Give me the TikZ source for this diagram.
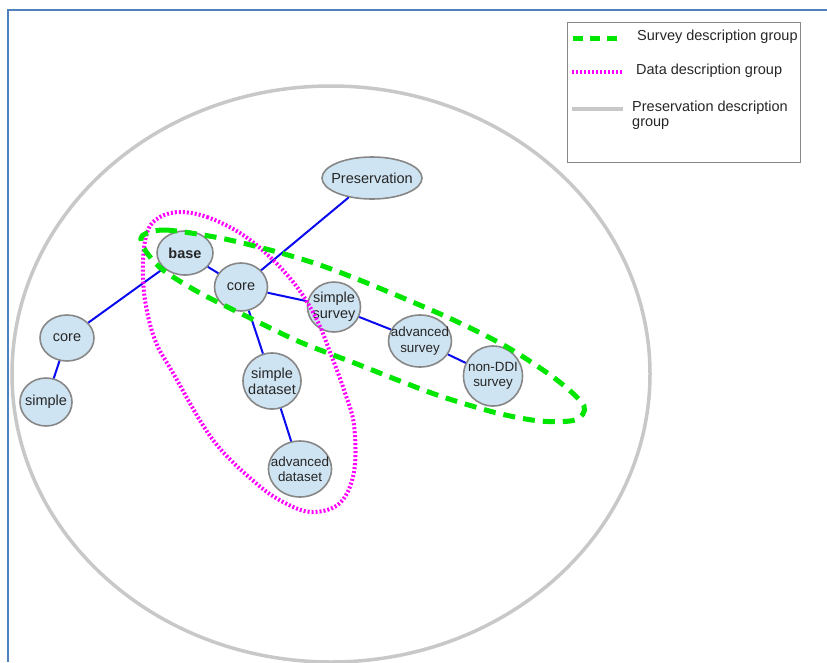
\documentclass[tikz,border=0pt]{standalone}
\usepackage{fontspec}
\setmainfont{Liberation Sans}
\usepackage{tikz}
\usetikzlibrary{positioning,shapes.geometric}
\definecolor{bleuclair}{RGB}{207,228,242}
\definecolor{gristrait}{RGB}{135,135,135}
\definecolor{bleulien}{RGB}{10,10,240}
\definecolor{vertgroupe}{RGB}{0,230,0}
\definecolor{rosegroupe}{RGB}{255,0,255}
\definecolor{griscercle}{RGB}{200,200,200}
\definecolor{bleucadre}{RGB}{79,129,189}
\tikzset{
  bulle/.style={
    ellipse,
    draw=gristrait,line width=1.6pt,
    fill=bleuclair,
    inner sep=-10pt,
    align=center,
    text=black!85,
    font=\fontsize{14.5}{16}\selectfont},
  petit/.style={font=\fontsize{13.4}{15.5}\selectfont},
  lien/.style = {draw=bleulien,line width=2pt},
  groupesurvey/.style = {draw=vertgroupe,line width=5pt,dash pattern=on 12pt off 8pt},
  groupedata/.style = {draw=rosegroupe,line width=4pt,dash pattern=on 2pt off 2pt},
  groupepres/.style = {draw=griscercle,line width=3.5pt},
  legende/.style = {anchor=west,align=left,text=black!85,inner sep=0pt,
    font=\fontsize{14.5}{15.5}\selectfont},
}

\begin{document}
\begin{tikzpicture}[x=1pt,y=-1pt]
  \useasboundingbox (0,0) rectangle (827,662);
  \draw[bleucadre,line width=2pt] (827,10) -- (8,10) -- (8,662);
  % preservation group
  \draw[groupepres] (331,374) ellipse (319 and 288);
  % legend
  \node[draw=gristrait,line width=1pt,minimum width=233pt,minimum height=140pt,anchor=north west] (legend) at (567,22) {};
  \draw[groupesurvey,dash pattern=on 10pt off 7pt] (573,38) -- (623,38);
  \node[legende] (lsurvey) at (637,37) {Survey description group};
  \draw[groupedata,line width=3.5pt] (572,72) -- (623,72);
  \node[legende] (ldata) at (636,71) {Data description group};
  \draw[groupepres] (572,109) -- (623,109);
  \node[legende] (lpres) at (632,115) {Preservation description\\group};
  % nodes
  \node[bulle,minimum width=100pt,minimum height=42pt] (Preservation) at (372,178) {Preservation};
  \node[bulle,minimum width=56pt,minimum height=44pt,font=\fontsize{14.5}{16}\selectfont\bfseries] (base) at (185,253) {base};
  \node[bulle,minimum width=53pt,minimum height=48pt] (core) at (241,287) {core};
  \node[bulle,minimum width=53pt,minimum height=50pt] (simple_survey) at (334,307) {simple\\survey};
  \node[bulle,petit,minimum width=63pt,minimum height=52pt] (advanced_survey) at (420,341) {advanced\\survey};
  \node[bulle,petit,minimum width=59pt,minimum height=60pt] (nonddi_survey) at (493,376) {non-DDI\\survey};
  \node[bulle,minimum width=54pt,minimum height=46pt] (core_left) at (67,338) {core};
  \node[bulle,minimum width=52pt,minimum height=48pt] (simple_left) at (46,402) {simple};
  \node[bulle,minimum width=58pt,minimum height=56pt] (simple_dataset) at (272,381) {simple\\dataset};
  \node[bulle,petit,minimum width=63pt,minimum height=56pt] (advanced_dataset) at (300,469) {advanced\\dataset};
  % links
  \draw[lien] (Preservation) -- (core);
  \draw[lien] (base) -- (core);
  \draw[lien] (base) -- (core_left);
  \draw[lien] (core_left) -- (simple_left);
  \draw[lien] (core) -- (simple_survey);
  \draw[lien] (simple_survey) -- (advanced_survey);
  \draw[lien] (advanced_survey) -- (nonddi_survey);
  \draw[lien] (core) -- (simple_dataset);
  \draw[lien] (simple_dataset) -- (advanced_dataset);
  % data description group
  \draw[groupedata] plot[smooth cycle,tension=0.6] coordinates {(180,212) (207,217) (240,233) (270,257) (297,287) (317,320) (330,352) (344,390) (354,425) (354,472) (340,503) (313,512) (287,504) (257,484) (213,440) (173,373) (155,340) (145,300) (143,260) (148,230) (160,217)};
  % survey description group
  \draw[groupesurvey] plot[smooth cycle,tension=0.5] coordinates {(142,236) (165,230) (220,238) (270,250) (317,264) (367,283) (447,317) (507,347) (557,380) (584,406) (575,420) (540,421) (497,413) (443,397) (400,381) (357,364) (300,342) (250,318) (200,293) (163,270) (145,250)};
\end{tikzpicture}
\end{document}
